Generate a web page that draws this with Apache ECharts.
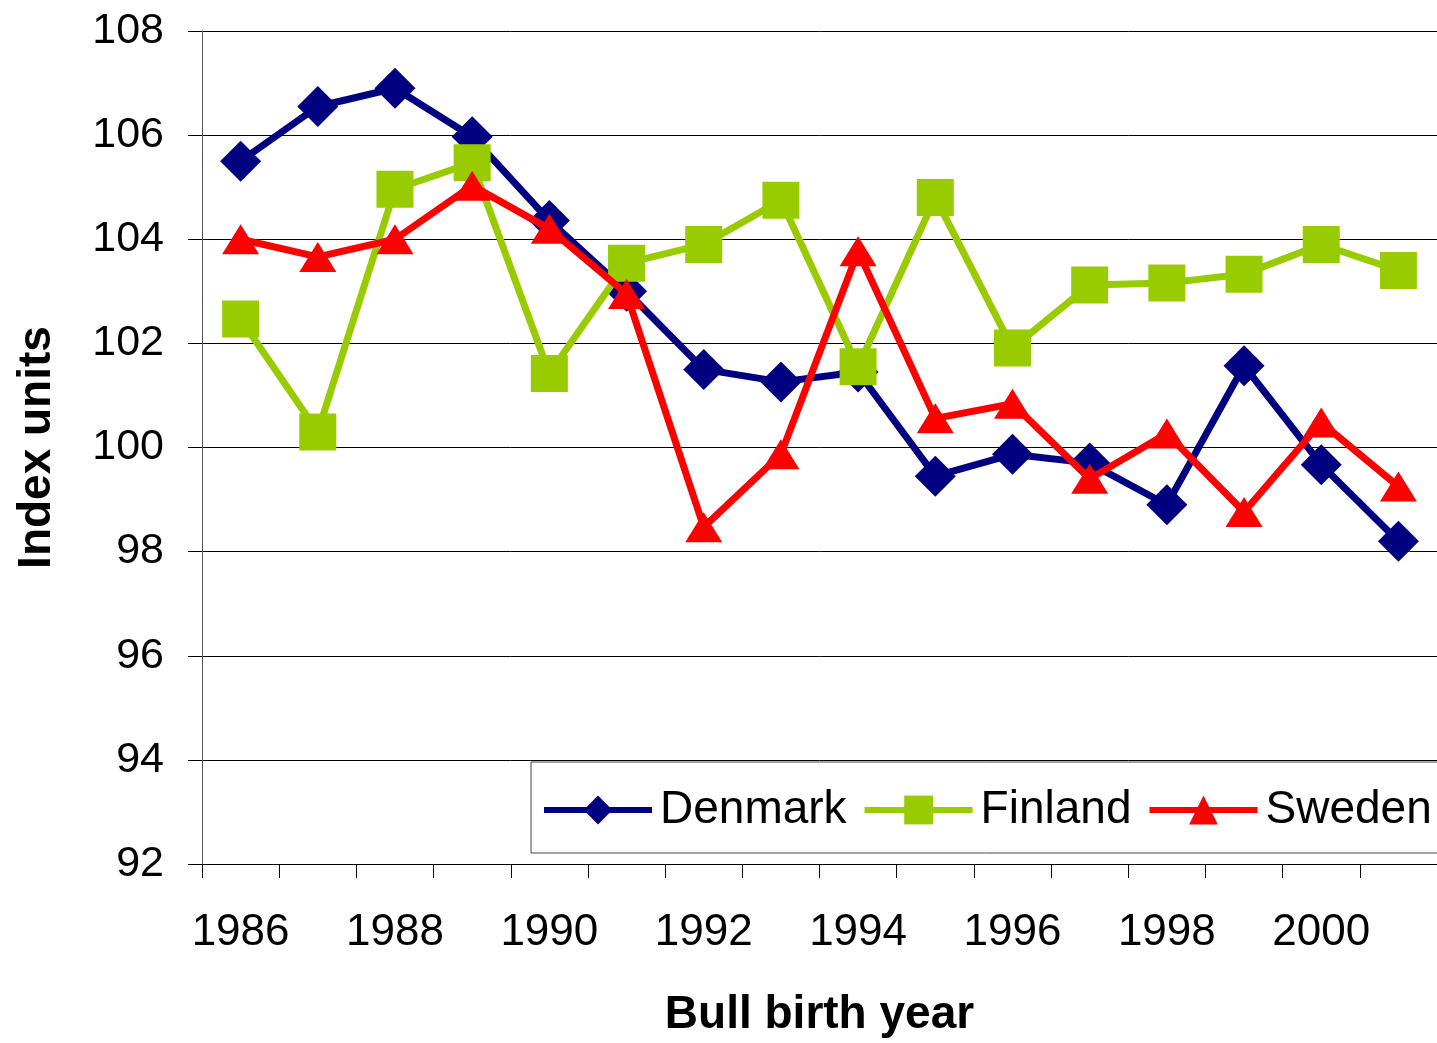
<!DOCTYPE html>
<html>
<head>
<meta charset="utf-8">
<script src="https://cdn.jsdelivr.net/npm/echarts@6/dist/echarts.min.js"></script>
<style>
html,body{margin:0;padding:0;background:#fff;}
#c{width:1437px;height:1043px;}
</style>
</head>
<body>
<div id="c"></div>
<script>
const years = ['1986','1987','1988','1989','1990','1991','1992','1993','1994','1995','1996','1997','1998','1999','2000','2001'];
const denmark = [105.5,106.55,106.9,105.97,104.36,103.0,101.5,101.26,101.45,99.45,99.87,99.7,98.9,101.57,99.67,98.2];
const finland = [102.47,100.3,104.96,105.47,101.42,103.54,103.9,104.75,101.55,104.8,101.91,103.12,103.16,103.33,103.9,103.4];
const sweden = [104.0,103.66,104.0,105.03,104.2,102.95,98.47,99.87,103.77,100.56,100.84,99.4,100.27,98.76,100.48,99.25];
const yTicks = {min:92, max:108, interval:2};

const FONT = '"Liberation Sans", Arial, sans-serif';
const chart = echarts.init(document.getElementById('c'), null, {renderer:'canvas'});
chart.setOption({
  animation:false,
  backgroundColor:'#fff',
  grid:{left:202, right:0, top:31, bottom:171, containLabel:false},
  xAxis:{
    type:'category', data:years, boundaryGap:true,
    name:'Bull birth year', nameLocation:'middle', nameGap:128,
    nameTextStyle:{fontFamily:FONT, fontSize:46, fontWeight:'bold', color:'#000'},
    axisLine:{lineStyle:{color:'#000', width:1}},
    axisTick:{show:true, interval:0, length:14, inside:false, lineStyle:{color:'#000'}},
    axisLabel:{interval:1, margin:47, fontFamily:FONT, fontSize:44, color:'#000'},
    splitLine:{show:false}
  },
  yAxis:{
    type:'value', min:yTicks.min, max:yTicks.max, interval:yTicks.interval,
    name:'Index units', nameLocation:'middle', nameGap:142, nameRotate:90,
    nameTextStyle:{fontFamily:FONT, fontSize:46, fontWeight:'bold', color:'#000'},
    axisLine:{show:true, lineStyle:{color:'#555', width:1}},
    axisTick:{show:true, length:14, lineStyle:{color:'#000'}},
    axisLabel:{margin:38, fontFamily:FONT, fontSize:43, color:'#000'},
    splitLine:{show:true, lineStyle:{color:'#000', width:1}}
  },
  graphic:[{
    type:'rect', z:50, shape:{x:531, y:762, width:930, height:91},
    style:{fill:'#fff', stroke:'#444', lineWidth:1}
  }],
  legend:{
    z:60, left:541, top:787, padding:0, width:896, itemWidth:108, itemHeight:36, itemGap:15,
    lineStyle:{width:6},
    textStyle:{fontFamily:FONT, fontSize:46, color:'#000', padding:[0,0,0,3]},
    data:['Denmark','Finland','Sweden']
  },
  series:[
    {name:'Denmark', type:'line', data:denmark, color:'#000080',
     lineStyle:{width:7, color:'#000080'}, symbol:'diamond', symbolSize:41,
     itemStyle:{color:'#000080'}, z:3},
    {name:'Finland', type:'line', data:finland, color:'#99CC00',
     lineStyle:{width:7, color:'#99CC00'}, symbol:'rect', symbolSize:37,
     itemStyle:{color:'#99CC00'}, z:4},
    {name:'Sweden', type:'line', data:sweden, color:'#FF0000',
     lineStyle:{width:7, color:'#FF0000'}, symbol:'triangle', symbolSize:[37,30],
     itemStyle:{color:'#FF0000'}, z:5}
  ]
});
</script>
</body>
</html>
